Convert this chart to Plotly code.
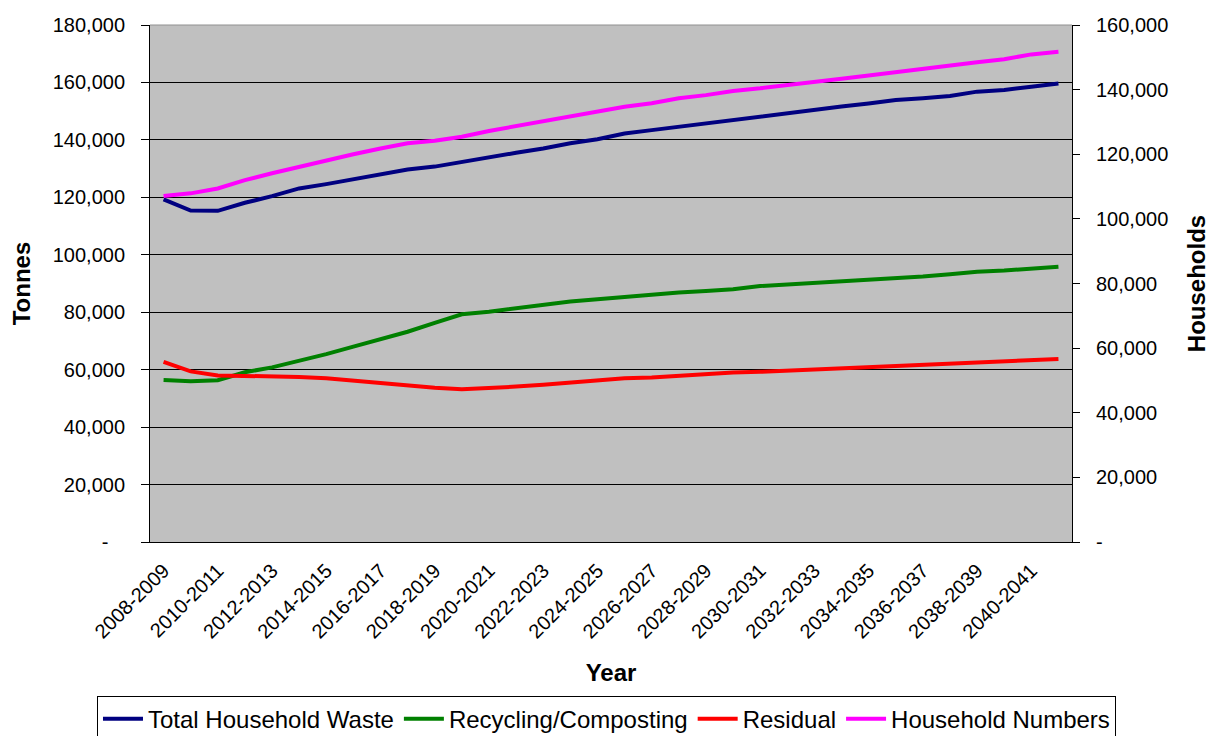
import plotly.graph_objects as go

years = [f"{y}-{y+1}" for y in range(2008, 2042)]

total_waste = [119300, 115400, 115300, 118100, 120400, 123100, 124600, 126300, 128100, 129700,
               130700, 132400, 134100, 135500, 137000, 138800, 140200, 142200, 143400, 144600,
               145800, 147100, 148100, 149300, 150400, 151600, 152700, 153900, 154500, 155300,
               156800, 157400, 158500, 159600]
recycling = [56400, 56000, 56300, 59100, 60800, 63000, 65400, 68000, 70500, 73200,
             76300, 79300, 80200, 81400, 82700, 83700, 84500, 85400, 86200, 86900,
             87400, 88000, 89100, 89600, 90100, 90600, 91200, 91800, 92400, 93200,
             94100, 94500, 95300, 95850]
residual = [62700, 59400, 58000, 57900, 57550, 57450, 57000, 56100, 55300, 54600,
            53700, 53160, 53500, 54100, 54750, 55450, 56050, 57050, 57300, 57900,
            58450, 59050, 59250, 59650, 60250, 60700, 61050, 61300, 61850, 62200,
            62650, 63100, 63350, 63700]
households = [107100, 107900, 109400, 112000, 114100, 116100, 118200, 120000, 121800, 123400,
              124200, 125400, 127200, 128700, 130400, 131600, 133200, 134700, 135800, 137300,
              138300, 139600, 140400, 141300, 142400, 143400, 144400, 145500, 146500, 147500,
              148500, 149400, 150900, 151700]

left_ticks = list(range(0, 180001, 20000))
right_ticks = list(range(0, 160001, 20000))
left_text = ["-\u00a0\u00a0\u00a0"] + [f"{v:,}" for v in left_ticks[1:]]
right_text = ["-"] + [f"{v:,}" for v in right_ticks[1:]]

FONT = "Arial, Liberation Sans, sans-serif"

fig = go.Figure()
fig.add_trace(go.Scatter(x=years, y=total_waste, name="Total Household Waste", mode="lines",
                         line=dict(color="#000080", width=4)))
fig.add_trace(go.Scatter(x=years, y=recycling, name="Recycling/Composting", mode="lines",
                         line=dict(color="#008000", width=4)))
fig.add_trace(go.Scatter(x=years, y=residual, name="Residual", mode="lines",
                         line=dict(color="#FF0000", width=4)))
fig.add_trace(go.Scatter(x=years, y=households, name="Household Numbers", mode="lines",
                         line=dict(color="#FF00FF", width=4), yaxis="y2"))

fig.update_layout(
    width=1207, height=728,
    margin=dict(l=142, r=143, t=17, b=194, autoexpand=False),
    paper_bgcolor="white",
    plot_bgcolor="#C0C0C0",
    font=dict(family=FONT, size=20, color="black"),
    showlegend=True,
    legend=dict(orientation="h", xref="paper", yref="paper",
                x=-0.0575, xanchor="left", y=-0.297, yanchor="top",
                bordercolor="black", borderwidth=1, bgcolor="white",
                font=dict(size=24), itemwidth=40, tracegroupgap=0),
    xaxis=dict(type="category", tickmode="array", tickvals=years[::2],
               tickangle=-45, ticks="outside", ticklen=8, tickcolor="rgba(0,0,0,0)",
               showgrid=False, showline=True, linecolor="black", linewidth=1,
               title=dict(text="<b>Year</b>", font=dict(size=24), standoff=22),
               automargin=False, range=[-0.5, len(years) - 0.5]),
    xaxis2=dict(overlaying="x", anchor="y", side="bottom", range=[-0.5, len(years) - 0.5],
                tickmode="array", tickvals=[k - 0.5 for k in range(len(years) + 1)],
                ticks="outside", ticklen=7, tickcolor="black", showticklabels=False,
                showgrid=False, showline=False, zeroline=False),
    yaxis=dict(range=[0, 180000], tickmode="array", tickvals=left_ticks, ticktext=left_text,
               ticks="outside", ticklen=8, tickcolor="black",
               showgrid=True, gridcolor="black", gridwidth=1, zeroline=False,
               showline=True, linecolor="black", linewidth=1,
               title=dict(text="<b>Tonnes</b>", font=dict(size=24), standoff=22),
               automargin=False, ticklabelstandoff=12),
    yaxis2=dict(range=[0, 160000], overlaying="y", side="right", tickmode="array",
                tickvals=right_ticks, ticktext=right_text,
                ticks="outside", ticklen=7, tickcolor="black",
                showgrid=False, zeroline=False, showline=True, linecolor="black", linewidth=1,
                title=dict(text="<b>Households</b>", font=dict(size=24), standoff=20),
                automargin=False, ticklabelstandoff=12),
    shapes=[dict(type="line", xref="paper", yref="paper", x0=0, x1=1, y0=1, y1=1,
                 line=dict(color="#909090", width=1))],
)

fig.write_html("out.html")
